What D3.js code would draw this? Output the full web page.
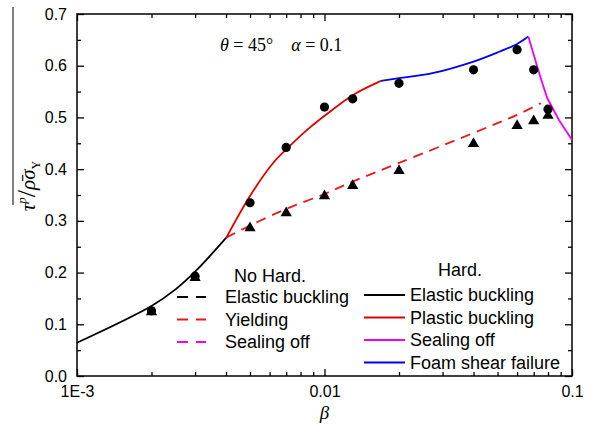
<!DOCTYPE html>
<meta charset="utf-8">
<style>
  body { margin: 0; background: #fff; }
  .tick text { font-family: "Liberation Sans", Arial, sans-serif; font-size: 16px; fill: #000; }
  .leg { font-family: "Liberation Sans", Arial, sans-serif; font-size: 18px; fill: #000; }
  .serif { font-family: "Liberation Serif", "Times New Roman", serif; fill: #000; }
</style>
<body>
<div id="chart"></div>
<script src="https://d3js.org/d3.v7.min.js"></script>
<script>
// hardening model curves
const elasticBeta = [0.001, 0.002, 0.0025, 0.003, 0.00401];
const elasticVal  = [0.0644, 0.1354, 0.1675, 0.2017, 0.2675];

const plasticBeta = [0.00401, 0.00498, 0.00619, 0.00723, 0.00844, 0.01016, 0.0130, 0.0169];
const plasticVal  = [0.2675, 0.3468, 0.4114, 0.4445, 0.4745, 0.5055, 0.5430, 0.5706];

const foamBeta = [0.0169, 0.020, 0.0273, 0.040, 0.0508, 0.060, 0.0666];
const foamVal  = [0.5706, 0.5758, 0.5855, 0.608, 0.627, 0.642, 0.6563];

const sealBeta = [0.0666, 0.0724, 0.0759, 0.0795, 0.0886, 0.100];
const sealVal  = [0.6563, 0.598, 0.566, 0.537, 0.495, 0.4565];

// no hardening: yielding
const yieldBeta = [0.00401, 0.005, 0.007, 0.010, 0.013, 0.020, 0.040, 0.060, 0.0748];
const yieldVal  = [0.2675, 0.291, 0.323, 0.352, 0.376, 0.412, 0.470, 0.505, 0.5275];

// test points
const testBeta = [0.002, 0.003, 0.005, 0.007, 0.010, 0.013, 0.020, 0.040, 0.060, 0.070, 0.080];
const circleVal   = [0.126, 0.193, 0.335, 0.442, 0.520, 0.536, 0.566, 0.592, 0.631, 0.592, 0.516];
const triangleVal = [0.124, 0.190, 0.286, 0.315, 0.348, 0.368, 0.397, 0.449, 0.484, 0.493, 0.5035];

const xMajor = [0.001, 0.01, 0.1];
const xMajorLabels = ["1E-3", "0.01", "0.1"];
const yMajor = [0, 0.1, 0.2, 0.3, 0.4, 0.5, 0.6, 0.7];
const yMajorLabels = ["0.0", "0.1", "0.2", "0.3", "0.4", "0.5", "0.6", "0.7"];

const noHardLabels = ["Elastic buckling", "Yielding", "Sealing off"];
const noHardColors = ["#000000", "#e41a1c", "#ee00ee"];
const hardLabels = ["Elastic buckling", "Plastic buckling", "Sealing off", "Foam shear failure"];
const hardColors = ["#000000", "#dd0000", "#ee00ee", "#0000ee"];

const width = 597, height = 430;
const margin = {top: 14, right: 25, bottom: 54, left: 77};

const svg = d3.select("#chart").append("svg")
    .attr("width", width)
    .attr("height", height);

const x = d3.scaleLog().domain([0.001, 0.1]).range([margin.left, width - margin.right]);
const y = d3.scaleLinear().domain([0, 0.7]).range([height - margin.bottom, margin.top]);

// minor ticks
const xMinor = [];
[0.001, 0.01].forEach(function (d) {
    for (let k = 2; k <= 9; k++) xMinor.push(d * k);
});
const yMinor = yMajor.slice(0, -1).map(d => d + 0.05);

function drawAxis(axis, tx, ty, labels) {
    const g = svg.append("g").attr("transform", `translate(${tx},${ty})`).call(axis);
    g.select(".domain").remove();
    g.selectAll("line").attr("stroke", "#000").attr("stroke-width", 1.3);
    if (!labels) g.selectAll("text").remove();
    return g;
}

const yBot = y(0), yTop = y(0.7), xLeft = x(0.001), xRight = x(0.1);

// x axes
drawAxis(d3.axisBottom(x).tickValues(xMinor).tickSize(-4).tickFormat(""), 0, yBot, false);
drawAxis(d3.axisBottom(x).tickValues(xMajor).tickSize(-7).tickPadding(10)
    .tickFormat((d, i) => xMajorLabels[i]), 0, yBot, true);
drawAxis(d3.axisTop(x).tickValues(xMinor).tickSize(-4).tickFormat(""), 0, yTop, false);
drawAxis(d3.axisTop(x).tickValues(xMajor).tickSize(-7).tickFormat(""), 0, yTop, false);

// y axes
drawAxis(d3.axisLeft(y).tickValues(yMinor).tickSize(-4).tickFormat(""), xLeft, 0, false);
drawAxis(d3.axisLeft(y).tickValues(yMajor).tickSize(-7).tickPadding(10)
    .tickFormat((d, i) => yMajorLabels[i]), xLeft, 0, true);
drawAxis(d3.axisRight(y).tickValues(yMinor).tickSize(-4).tickFormat(""), xRight, 0, false);
drawAxis(d3.axisRight(y).tickValues(yMajor).tickSize(-7).tickFormat(""), xRight, 0, false);

svg.append("rect")
    .attr("x", xLeft).attr("y", yTop)
    .attr("width", xRight - xLeft).attr("height", yBot - yTop)
    .attr("fill", "none").attr("stroke", "#000").attr("stroke-width", 1.5);

// curves
const line = d3.line().x(d => x(d[0])).y(d => y(d[1])).curve(d3.curveCatmullRom.alpha(0.5));
const lineStraight = d3.line().x(d => x(d[0])).y(d => y(d[1]));

function zip(a, b) { return a.map((d, i) => [d, b[i]]); }

svg.append("path").datum(zip(yieldBeta, yieldVal))
    .attr("d", line).attr("fill", "none")
    .attr("stroke", noHardColors[1]).attr("stroke-width", 1.8).attr("stroke-dasharray", "10,7");

svg.append("path").datum(zip(elasticBeta, elasticVal))
    .attr("d", line).attr("fill", "none").attr("stroke", hardColors[0]).attr("stroke-width", 1.8);
svg.append("path").datum(zip(plasticBeta, plasticVal))
    .attr("d", line).attr("fill", "none").attr("stroke", hardColors[1]).attr("stroke-width", 1.8);
svg.append("path").datum(zip(foamBeta, foamVal))
    .attr("d", line).attr("fill", "none").attr("stroke", hardColors[3]).attr("stroke-width", 1.8);
svg.append("path").datum(zip(sealBeta, sealVal))
    .attr("d", lineStraight).attr("fill", "none").attr("stroke", hardColors[2]).attr("stroke-width", 1.8);

// markers
svg.append("g").selectAll("path")
    .data(zip(testBeta, triangleVal))
    .join("path")
    .attr("d", d3.symbol(d3.symbolTriangle, 55))
    .attr("transform", d => `translate(${x(d[0])},${y(d[1])})`)
    .attr("fill", "#000");

svg.append("g").selectAll("circle")
    .data(zip(testBeta, circleVal))
    .join("circle")
    .attr("cx", d => x(d[0])).attr("cy", d => y(d[1]))
    .attr("r", 4.6).attr("fill", "#000");

// legend: no hardening
svg.append("text").attr("class", "leg").attr("x", 234).attr("y", 276)
    .attr("dominant-baseline", "central").text("No Hard.");
noHardLabels.forEach(function (d, i) {
    const yy = 297 + i * 22.5;
    svg.append("line").attr("x1", 177).attr("x2", 206).attr("y1", yy).attr("y2", yy)
        .attr("stroke", noHardColors[i]).attr("stroke-width", 1.8).attr("stroke-dasharray", "11,8");
    svg.append("text").attr("class", "leg").attr("x", 225).attr("y", yy)
        .attr("dominant-baseline", "central").text(d);
});

// legend: hardening
svg.append("text").attr("class", "leg").attr("x", 438).attr("y", 270)
    .attr("dominant-baseline", "central").text("Hard.");
hardLabels.forEach(function (d, i) {
    const yy = 295 + i * 22.5;
    svg.append("line").attr("x1", 364).attr("x2", 405).attr("y1", yy).attr("y2", yy)
        .attr("stroke", hardColors[i]).attr("stroke-width", 1.8);
    svg.append("text").attr("class", "leg").attr("x", 410).attr("y", yy)
        .attr("dominant-baseline", "central").text(d);
});

// annotation
const ann = svg.append("text").attr("class", "serif").attr("x", 220).attr("y", 45)
    .attr("dominant-baseline", "central").style("font-size", "18px");
ann.append("tspan").style("font-style", "italic").text("θ");
ann.append("tspan").text(" = 45°");
ann.append("tspan").attr("dx", 18).style("font-style", "italic").text("α");
ann.append("tspan").text(" = 0.1");

// x label
svg.append("text").attr("class", "serif").attr("x", x(0.01)).attr("y", 412)
    .attr("text-anchor", "middle").attr("dominant-baseline", "central")
    .style("font-size", "19px").style("font-style", "italic").text("β");

// y label
const yl = svg.append("g").attr("transform", "translate(35,186) rotate(-90)");
const ylt = yl.append("text").attr("class", "serif").attr("text-anchor", "middle")
    .style("font-size", "21px");
ylt.append("tspan").style("font-style", "italic").text("τ");
ylt.append("tspan").attr("dy", -9).style("font-size", "13px").style("font-style", "italic").text("p");
ylt.append("tspan").attr("dy", 9).style("font-size", "26px").text("/");
ylt.append("tspan").style("font-style", "italic").text("ρ\u0304σ");
ylt.append("tspan").attr("dy", 5).style("font-size", "12px").text("Y");
yl.append("line").attr("x1", -19).attr("x2", 179).attr("y1", -22).attr("y2", -22)
    .attr("stroke", "#000").attr("stroke-width", 1);
</script>
</body>
